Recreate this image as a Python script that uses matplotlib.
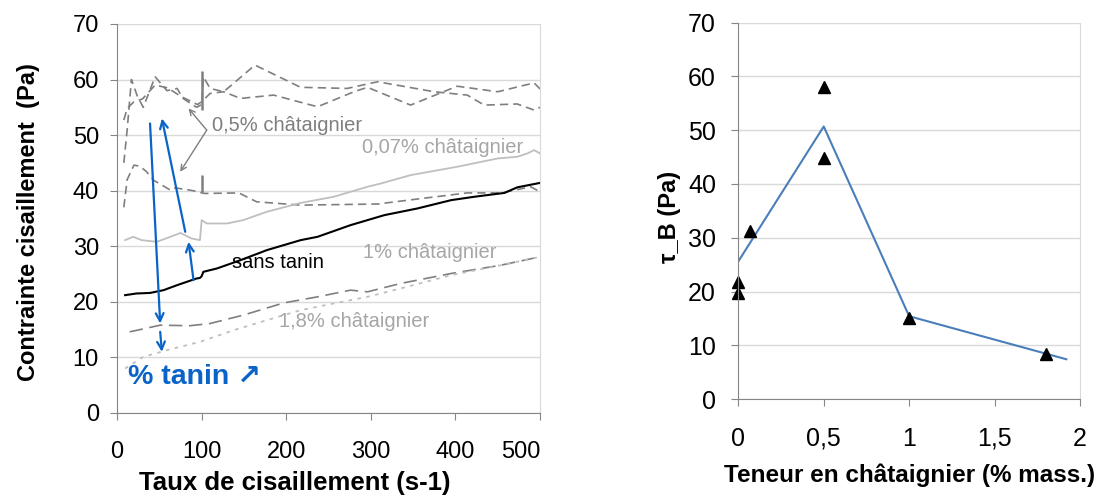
"""
Rheology of tannin suspensions: flow curves and yield stress vs chestnut content
"""

import matplotlib
matplotlib.use('Agg')
import matplotlib.pyplot as plt

plt.rcParams['font.family'] = ['Liberation Sans', 'DejaVu Sans']

# ---------- left panel: flow curves (shear rate s-1, stress Pa) ----------
ch05a_x = [8, 12, 17, 24, 31, 45, 59, 71, 78, 94, 100, 102, 110, 126, 163, 217, 272,
           308, 375, 414, 434, 473, 493, 500]
ch05a_y = [45, 51, 60, 57, 55, 60.5, 58, 58.4, 56.6, 55, 55.5, 60.5, 58.4, 57.8, 62.6,
           58.6, 58.4, 59.6, 57.8, 57.2, 55.4, 55.6, 54.5, 55]

ch05b_x = [8, 12, 20, 30, 45, 60, 75, 95, 100, 110, 126, 146, 185, 237, 280, 296, 347,
           402, 450, 493, 500]
ch05b_y = [52.7, 54.8, 56, 56.5, 59, 58.5, 57, 55.5, 56, 57.5, 57.8, 56.6, 57.2, 55.1,
           57.8, 58.6, 55.4, 58.8, 57.8, 59.4, 58.3]

ch05c_x = [8, 12, 20, 27, 35, 43, 63, 69, 86, 97, 100, 104, 144, 165, 217, 308, 355,
           414, 454, 489, 500]
ch05c_y = [37, 42, 44.6, 44.4, 43.4, 41.9, 40.1, 40.5, 40.1, 39.8, 39.6, 39.5, 39.6,
           38, 37.4, 37.6, 38.5, 39.6, 39.6, 40.7, 39.8]

ch007_x = [9.5, 19, 29, 47, 63, 75, 88, 98, 100, 106, 130, 149, 177, 217, 256, 296,
           312, 347, 402, 450, 473, 485, 493, 500]
ch007_y = [31.1, 31.7, 31.1, 30.8, 31.7, 32.4, 31.4, 31.1, 34.7, 34.1, 34.1, 34.7,
           36.2, 37.8, 38.9, 40.7, 41.3, 42.8, 44.3, 45.8, 46.1, 46.7, 47.3, 46.7]

sans_x = [9.5, 23, 39, 55, 71, 94, 98, 100, 102, 118, 146, 177, 217, 237, 276, 316,
          355, 395, 422, 458, 473, 500]
sans_y = [21.2, 21.5, 21.6, 22.1, 23, 24.2, 24.3, 24.6, 25.4, 26, 27.5, 29.3, 31.1,
          31.7, 33.8, 35.6, 36.8, 38.3, 38.9, 39.6, 40.6, 41.4]

ch1_x = [15, 51, 86, 110, 149, 197, 237, 276, 296, 335, 395, 454, 500]
ch1_y = [14.6, 15.8, 15.7, 16.1, 17.6, 19.8, 20.9, 22.1, 21.8, 23.3, 25.1, 26.6, 28.1]

ch18_x = [9.5, 31, 59, 98, 138, 177, 217, 256, 296, 335, 395, 454, 500]
ch18_y = [8, 10.1, 11.3, 12.8, 14.9, 16.7, 18.5, 19.7, 20.9, 22.4, 24.8, 26.6, 28.1]

# range change of the rheometer at 100 s-1 (vertical markers)
jump_x = [100, 100]
jump_lo = [54.5, 39.8]
jump_hi = [61.6, 42.8]

# ---------- right panel: yield stress vs chestnut content ----------
teneur = [0, 0, 0.07, 0.5, 0.5, 1, 1.8]
tau_b = [21.8, 19.8, 31.3, 58, 44.9, 15, 8.4]
fit_x = [0, 0.5, 1, 1.92]
fit_y = [25.6, 50.7, 15.4, 7.4]

DASH_GREY = '#7f7f7f'
LIGHT_GREY = '#bfbfbf'
GRID = '#d9d9d9'
AXIS = '#868686'
BLUE = '#0a64c8'


def style_axes(ax, tick_size):
    ax.spines['top'].set_visible(False)
    ax.spines['right'].set_color(GRID)
    ax.spines['left'].set_color(AXIS)
    ax.spines['bottom'].set_color(AXIS)
    ax.grid(axis='y', color=GRID, linewidth=1)
    ax.set_axisbelow(True)
    ax.tick_params(colors=AXIS, labelcolor='black', length=5, labelsize=tick_size)


fig = plt.figure(figsize=(10.99, 4.95), dpi=100)
fig.patch.set_facecolor('white')

# ============ Left: flow curves ============
ax1 = fig.add_axes([0.1065, 0.1657, 0.3849, 0.7859])
style_axes(ax1, 17)

dash = (0, (5, 3))
ax1.plot(ch05a_x, ch05a_y, color=DASH_GREY, lw=1.2, linestyle=dash)
ax1.plot(ch05b_x, ch05b_y, color=DASH_GREY, lw=1.2, linestyle=dash)
ax1.plot(ch05c_x, ch05c_y, color=DASH_GREY, lw=1.2, linestyle=dash)
ax1.vlines(jump_x, jump_lo, jump_hi, color=DASH_GREY, lw=1.8)
ax1.plot(ch007_x, ch007_y, color=LIGHT_GREY, lw=1.3)
ax1.plot(sans_x, sans_y, color='black', lw=1.5)
ax1.plot(ch1_x, ch1_y, color=DASH_GREY, lw=1.2, linestyle=(0, (8, 4)))
ax1.plot(ch18_x, ch18_y, color=LIGHT_GREY, lw=1.3, linestyle=(0, (2, 3)))

ax1.set_xlim(0, 500)
ax1.set_ylim(0, 70)
ax1.set_xticks(range(0, 501, 100))
ax1.set_yticks(range(0, 71, 10))
ax1.tick_params(axis='x', pad=15)
ax1.tick_params(axis='y', pad=8)
ax1.get_xticklabels()[-1].set_ha('right')
ax1.set_xlabel('Taux de cisaillement (s-1)', fontsize=18.5, fontweight='bold')
ax1.set_ylabel('Contrainte cisaillement  (Pa)', fontsize=17, fontweight='bold')
ax1.xaxis.set_label_coords(0.421, -0.18)
ax1.xaxis.label.set_va('center')
ax1.yaxis.set_label_coords(-0.21, 0.491)
ax1.yaxis.label.set_va('center')

# curve labels
ax1.text(112, 51.8, '0,5% châtaignier', fontsize=14.5, color=DASH_GREY, va='center')
ax1.text(290, 47.7, '0,07% châtaignier', fontsize=14.5, color='#a6a6a6', va='center')
ax1.text(136, 27, 'sans tanin', fontsize=14.5, color='black', va='center')
ax1.text(291, 28.8, '1% châtaignier', fontsize=14.5, color='#a6a6a6', va='center')
ax1.text(191, 16.4, '1,8% châtaignier', fontsize=14.5, color='#a6a6a6', va='center')

# pointer for the 0.5% group
gp = dict(arrowstyle='->', color=DASH_GREY, lw=1.0, shrinkA=0, shrinkB=0)
ax1.annotate('', xy=(84.5, 54.8), xytext=(106, 50.9), arrowprops=gp)
ax1.annotate('', xy=(74.6, 43.4), xytext=(106, 50.9), arrowprops=gp)

# blue arrows: increasing tannin
bp = dict(arrowstyle='->', color=BLUE, lw=1.6, shrinkA=0, shrinkB=0, mutation_scale=14)
ax1.annotate('', xy=(51, 16.1), xytext=(39, 52.1), arrowprops=bp)
ax1.annotate('', xy=(53, 11), xytext=(51, 14.6), arrowprops=bp)
ax1.annotate('', xy=(84.5, 30.8), xytext=(90.4, 23.9), arrowprops=bp)
ax1.annotate('', xy=(53, 53), xytext=(80.6, 32.6), arrowprops=bp)
ax1.text(13, 6.5, '% tanin ↗', fontsize=20.5, fontweight='bold', color=BLUE, va='center')

# ============ Right: yield stress ============
ax2 = fig.add_axes([0.6718, 0.1939, 0.3109, 0.7602])
style_axes(ax2, 18)
ax2.plot(fit_x, fit_y, color='#4a7ebb', lw=1.5)
ax2.plot(teneur, tau_b, linestyle='none', marker='^', color='black', markersize=8,
         clip_on=False)
ax2.set_xlim(0, 2)
ax2.set_ylim(0, 70)
ax2.set_xticks([0, 0.5, 1, 1.5, 2])
ax2.set_xticklabels(['0', '0,5', '1', '1,5', '2'])
ax2.set_yticks(range(0, 71, 10))
ax2.tick_params(axis='x', pad=15)
ax2.tick_params(axis='y', pad=11)
ax2.set_xlabel('Teneur en châtaignier (% mass.)', fontsize=17.5, fontweight='bold')
ax2.set_ylabel('τ_B (Pa)', fontsize=17, fontweight='bold')
ax2.xaxis.set_label_coords(0.501, -0.202)
ax2.xaxis.label.set_va('center')
ax2.yaxis.set_label_coords(-0.2, 0.484)
ax2.yaxis.label.set_va('center')

plt.savefig('out.png', dpi=100, facecolor='white')
